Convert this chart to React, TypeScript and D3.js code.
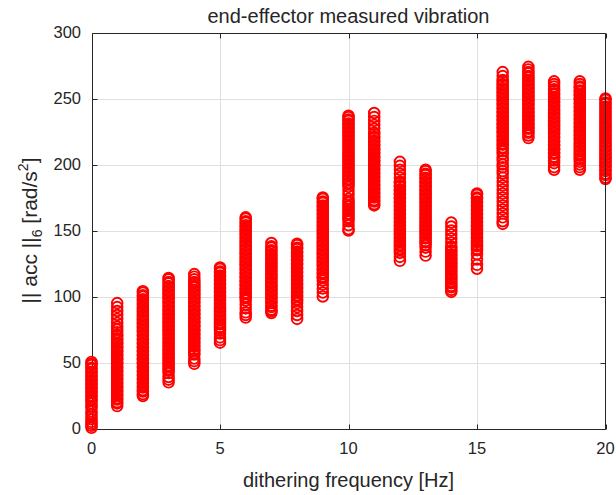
import React from "react";
import * as d3 from "d3";

const titleText = "end-effector measured vibration";
const xLabelText = "dithering frequency [Hz]";
const xTicks = [0, 5, 10, 15, 20];
const yTicks = [0, 50, 100, 150, 200, 250, 300];
const frequencies = [0, 1, 2, 3, 4, 5, 6, 7, 8, 9, 10, 11, 12, 13, 14, 15, 16, 17, 18, 19, 20];

const hz0 = [50.4, 49, 48, 46, 45, 43, 42, 40, 39, 37, 36, 34, 33, 31, 30, 28, 27, 25, 24, 22, 21, 19, 17, 15.5, 13, 11, 9, 7, 5, 3.5, 2, 0.5];
const hz1 = [95, 92, 89, 86, 83, 80, 77, 75, 73, 71, 70, 68, 67, 65, 64, 62, 61, 59, 58, 56, 55, 53, 52, 50, 49, 47, 46, 44, 43, 41, 40, 38, 37, 35, 34, 32, 31, 29, 28, 26, 25, 23, 22, 20, 19, 17];
const hz2 = [104, 103, 101, 100, 98, 97, 95, 94, 92, 91, 89, 88, 86, 85, 83, 82, 80, 79, 77, 76, 74, 73, 71, 70, 68, 67, 65, 64, 62, 61, 59, 58, 56, 55, 53, 52, 50, 49, 47, 46, 44, 43, 41, 40, 38, 37, 35, 34, 32, 31, 29, 28, 26, 24.6];
const hz3 = [114, 113, 111, 110, 108, 107, 105, 104, 102, 101, 99, 98, 96, 95, 93, 92, 90, 89, 87, 86, 84, 83, 81, 80, 78, 77, 75, 74, 72, 71, 69, 68, 66, 65, 63, 62, 60, 59, 57, 56, 54, 53, 51, 50, 48, 47, 45, 44, 42, 39, 37, 35];
const hz4 = [117, 115, 113, 111, 110, 108, 107, 105, 104, 102, 101, 99, 98, 96, 95, 93, 92, 90, 89, 87, 86, 84, 83, 81, 80, 78, 77, 75, 74, 72, 71, 69, 68, 66, 65, 63, 62, 60, 59, 57, 56, 53, 51, 49];
const hz5 = [122, 121, 119, 118, 116, 115, 113, 112, 110, 109, 107, 106, 104, 103, 101, 100, 98, 97, 95, 94, 92, 91, 89, 88, 86, 85, 83, 82, 80, 79, 77, 76, 74, 72, 69, 67, 65];
const hz6 = [160, 159, 157, 156, 154, 153, 151, 150, 148, 147, 145, 144, 142, 141, 139, 138, 136, 135, 133, 132, 130, 129, 127, 126, 124, 123, 121, 120, 118, 117, 115, 114, 112, 111, 109, 108, 106, 105, 103, 102, 100, 99, 97, 94, 91, 88, 86, 84];
const hz7 = [140.5, 138, 137, 135, 134, 132, 131, 129, 128, 126, 125, 123, 122, 120, 119, 117, 116, 114, 113, 111, 110, 108, 107, 105, 104, 102, 101, 99, 98, 96, 95, 93, 92, 90, 89, 87.5];
const hz8 = [140, 139, 137, 136, 134, 133, 131, 130, 128, 127, 125, 124, 122, 121, 119, 118, 116, 115, 113, 112, 110, 109, 107, 106, 104, 103, 101, 100, 98, 97, 95, 92, 89, 86, 83];
const hz9 = [175, 174, 172, 171, 169, 168, 166, 165, 163, 162, 160, 159, 157, 156, 154, 153, 151, 150, 148, 147, 145, 144, 142, 141, 139, 138, 136, 135, 133, 132, 130, 129, 127, 126, 124, 123, 121, 120, 118, 117, 115, 114, 112, 109, 106, 103, 100];
const hz10 = [237, 236, 234, 233, 231, 230, 228, 227, 225, 224, 222, 221, 219, 218, 216, 215, 213, 212, 210, 209, 207, 206, 204, 203, 201, 200, 198, 197, 195, 194, 192, 191, 189, 188, 186, 185, 183, 180, 177, 174, 172, 171, 169, 168, 166, 165, 163, 162, 160, 159, 157, 154, 151, 150];
const hz11 = [239, 236, 233, 230, 227, 224, 223, 221, 220, 218, 217, 215, 214, 212, 211, 209, 208, 206, 205, 203, 202, 200, 199, 197, 196, 194, 193, 191, 190, 188, 187, 185, 184, 182, 181, 179, 178, 176, 175, 173, 172, 170, 169];
const hz12 = [202, 199, 196, 193, 190, 187, 186, 184, 183, 181, 180, 178, 177, 175, 174, 172, 171, 169, 168, 166, 165, 163, 162, 160, 159, 157, 156, 154, 153, 151, 150, 148, 147, 145, 144, 142, 141, 139, 138, 136, 135, 133, 130, 127];
const hz13 = [196, 195, 193, 192, 190, 189, 187, 186, 184, 183, 181, 180, 178, 177, 175, 174, 172, 171, 169, 168, 166, 165, 163, 162, 160, 159, 157, 156, 154, 153, 151, 150, 148, 147, 145, 144, 142, 141, 139, 137, 134, 131];
const hz14 = [156, 153, 150, 147, 144, 141, 138, 137, 135, 134, 132, 131, 129, 128, 126, 125, 123, 122, 120, 119, 117, 116, 114, 113, 111, 110, 108, 107, 105, 103.5];
const hz15 = [178, 177, 175, 174, 172, 171, 169, 168, 166, 165, 163, 162, 160, 159, 157, 156, 154, 153, 151, 150, 148, 147, 145, 144, 142, 141, 139, 138, 136, 135, 132, 128, 124, 121];
const hz16 = [270, 267, 264, 263, 261, 260, 258, 257, 255, 254, 252, 251, 249, 248, 246, 245, 243, 242, 240, 239, 237, 236, 234, 233, 231, 230, 228, 227, 225, 224, 222, 221, 219, 218, 216, 215, 213, 212, 210, 208, 205, 203, 200, 198, 195, 193, 190, 187, 184, 181, 178, 175, 172, 169, 166, 163, 160, 157, 155];
const hz17 = [274, 272, 270, 269, 267, 266, 264, 263, 261, 260, 258, 257, 255, 254, 252, 251, 249, 248, 246, 245, 243, 242, 240, 239, 237, 236, 234, 233, 231, 230, 228, 227, 225, 224, 222, 220];
const hz18 = [263, 261, 259, 257, 256, 254, 253, 251, 250, 248, 247, 245, 244, 242, 241, 239, 238, 236, 235, 233, 232, 230, 229, 227, 226, 224, 223, 221, 220, 218, 217, 215, 214, 212, 211, 209, 208, 206, 205, 203, 201, 198, 196];
const hz19 = [263, 261, 259, 258, 256, 255, 253, 252, 250, 249, 247, 246, 244, 243, 241, 240, 238, 237, 235, 234, 232, 231, 229, 228, 226, 225, 223, 222, 220, 219, 217, 216, 214, 213, 211, 210, 208, 207, 205, 204, 202, 200, 198, 196];
const hz20 = [250, 249, 247, 246, 244, 243, 241, 240, 238, 237, 235, 234, 232, 231, 229, 228, 226, 225, 223, 222, 220, 219, 217, 216, 214, 213, 211, 210, 208, 207, 205, 204, 202, 201, 199, 198, 196, 195, 193, 192, 190, 189];

const samples = [hz0, hz1, hz2, hz3, hz4, hz5, hz6, hz7, hz8, hz9, hz10, hz11, hz12, hz13, hz14, hz15, hz16, hz17, hz18, hz19, hz20];

const W = 616;
const H = 495;
const FONT = "'Liberation Sans', Arial, Helvetica, sans-serif";
const AXIS = "#262626";
const GRID = "#dfdfdf";

export default function App() {
  const x = d3.scaleLinear().domain([0, 20]).range([91.5, 605.5]);
  const y = d3.scaleLinear().domain([0, 300]).range([428.5, 32.5]);
  const [x0, x1] = x.range();
  const [yb, yt] = y.range();
  const px = (v: number) => Math.round(x(v)) + 0.5;
  const py = (v: number) => Math.round(y(v)) + 0.5;
  const L = Math.round(x0) + 0.5;
  const R = Math.round(x1) - 0.5;
  const B = Math.round(yb) + 0.5;
  const T = Math.round(yt) + 0.5;
  const tickLen = 5;

  const points: { cx: number; cy: number; key: string }[] = [];
  frequencies.forEach((f, i) => {
    samples[i].forEach((v, j) => {
      points.push({ cx: x(f), cy: y(v), key: `${i}-${j}` });
    });
  });

  return (
    <svg
      width={W}
      height={H}
      style={{ position: "absolute", left: 0, top: 0, background: "#fff" }}
      fontFamily={FONT}
    >
      <rect x={0} y={0} width={W} height={H} fill="#fff" />
      {xTicks.filter((t) => t > 0 && t < 20).map((t) => (
        <line key={`gx${t}`} x1={px(t)} x2={px(t)} y1={T} y2={B} stroke={GRID} strokeWidth={1} />
      ))}
      {yTicks.filter((t) => t > 0 && t < 300).map((t) => (
        <line key={`gy${t}`} x1={L} x2={R} y1={py(t)} y2={py(t)} stroke={GRID} strokeWidth={1} />
      ))}
      <line x1={L} x2={L} y1={T} y2={B} stroke={AXIS} strokeWidth={1} />
      <line x1={L} x2={R} y1={B} y2={B} stroke={AXIS} strokeWidth={1} />
      {xTicks.map((t) => (
        <g key={`tx${t}`}>
          <line x1={px(t)} x2={px(t)} y1={B} y2={B - tickLen} stroke={AXIS} strokeWidth={1} />
          <line x1={px(t)} x2={px(t)} y1={T} y2={T + tickLen} stroke={AXIS} strokeWidth={1} />
        </g>
      ))}
      {yTicks.map((t) => (
        <g key={`ty${t}`}>
          <line x1={L} x2={L + tickLen} y1={py(t)} y2={py(t)} stroke={AXIS} strokeWidth={1} />
          <line x1={R} x2={R - tickLen} y1={py(t)} y2={py(t)} stroke={AXIS} strokeWidth={1} />
        </g>
      ))}
      <g fill="none" stroke="#ff0000" strokeWidth={1.9}>
        {points.map((p) => (
          <circle key={p.key} cx={p.cx} cy={p.cy} r={5.3} />
        ))}
      </g>
      <line x1={L} x2={R} y1={T} y2={T} stroke={AXIS} strokeWidth={1} />
      <line x1={R} x2={R} y1={T} y2={B} stroke={AXIS} strokeWidth={1} />
      {xTicks.map((t) => (
        <text key={`lx${t}`} x={x(t)} y={454} textAnchor="middle" fontSize={16.5} fill={AXIS}>
          {t}
        </text>
      ))}
      {yTicks.map((t) => (
        <text key={`ly${t}`} x={81} y={y(t)} dy="0.36em" textAnchor="end" fontSize={16.5} fill={AXIS}>
          {t}
        </text>
      ))}
      <text x={(x0 + x1) / 2} y={23} textAnchor="middle" fontSize={20} fill={AXIS}>
        {titleText}
      </text>
      <text x={(x0 + x1) / 2} y={487} textAnchor="middle" fontSize={20} fill={AXIS}>
        {xLabelText}
      </text>
      <text transform={`translate(37, ${(yt + yb) / 2}) rotate(-90)`} textAnchor="middle" fontSize={21} fill={AXIS}>
        <tspan>|| acc ||</tspan>
        <tspan fontSize={14} dy={5}>6</tspan>
        <tspan dy={-5}> [rad/s</tspan>
        <tspan fontSize={14} dy={-9}>2</tspan>
        <tspan dy={9}>]</tspan>
      </text>
    </svg>
  );
}
